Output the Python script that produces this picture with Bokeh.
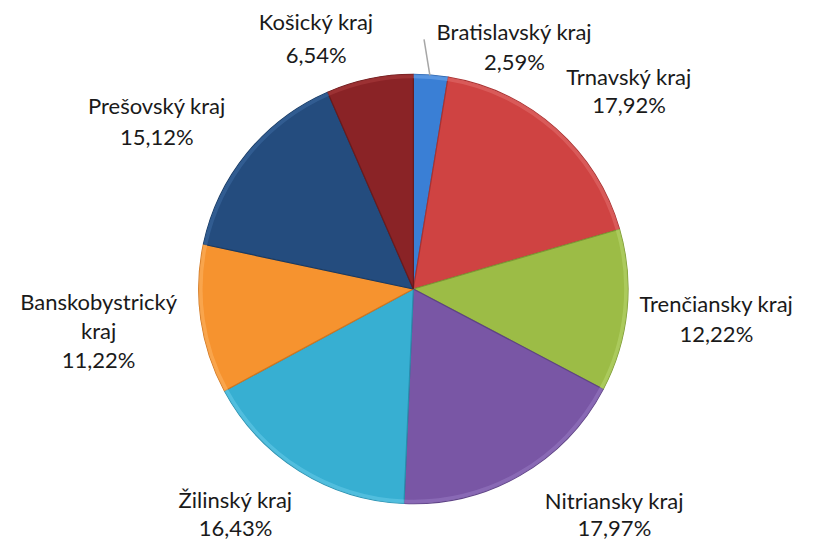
import numpy as np
from bokeh.plotting import figure
from bokeh.models import Range1d, ColumnDataSource
from bokeh.core.properties import value
from bokeh.embed import file_html
from bokeh.resources import INLINE

# ---- data ----
regions = ["Bratislavský kraj", "Trnavský kraj", "Trenčiansky kraj", "Nitriansky kraj",
           "Žilinský kraj", "Banskobystrický kraj", "Prešovský kraj", "Košický kraj"]
shares = [2.59, 17.92, 12.22, 17.97, 16.43, 11.22, 15.12, 6.54]
colors = ["#3a7fd5", "#cf4342", "#9cbc46", "#7956a5", "#37afd2", "#f6932f", "#244c7e", "#8a2326"]
edge_colors = ["#2a63ad", "#a83232", "#7d9a34", "#5e4285", "#288fae", "#d0761f", "#183a63", "#6a1a1c"]
rim_light = ["#6aa3ea", "#e06a69", "#b6d46a", "#9577bf", "#62c8e6", "#fbb060", "#3a679e", "#a83a3c"]

# label layout (reference pixel coordinates: x, y of each text line), one label per region
label_lines = [
    [("Bratislavský kraj", 525, 32), (None, 525, 63)],
    [("Trnavský kraj", 643, 78), (None, 643, 107)],
    [("Trenčiansky kraj", 733, 312), (None, 733, 343)],
    [("Nitriansky kraj", 628, 515), (None, 628, 543)],
    [("Žilinský kraj", 238, 514), (None, 238, 543)],
    [("Banskobystrický", 97, 310), ("kraj", 97, 340), (None, 97, 370)],
    [("Prešovský kraj", 157, 108), (None, 157, 140)],
    [("Košický kraj", 321, 22), (None, 321, 56)],
]

REF_W, REF_H = 832, 559
W, H = 816, 543
s = H / REF_H
span_x = W / s
pad = (span_x - REF_W) / 2

def Y(py):
    return REF_H - py

cx, cy, R = 421, Y(297), 221

p = figure(width=W, height=H, output_backend="svg", toolbar_location=None,
           x_range=Range1d(-pad, REF_W + pad), y_range=Range1d(0, REF_H),
           x_axis_type=None, y_axis_type=None, min_border=0,
           background_fill_color="white", border_fill_color="white")
p.grid.visible = False
p.outline_line_color = None

frac = np.array(shares) / np.sum(shares)
cum = np.concatenate([[0], np.cumsum(frac)])
start = np.pi / 2 - 2 * np.pi * cum[1:]
end = np.pi / 2 - 2 * np.pi * cum[:-1]

src = ColumnDataSource(dict(start=start, end=end, color=colors, edge=edge_colors, rim=rim_light))
p.wedge(x=cx, y=cy, radius=R, start_angle="start", end_angle="end",
        fill_color="color", line_color="edge", line_width=1.2, source=src)
# subtle bevel rim
p.annular_wedge(x=cx, y=cy, inner_radius=R - 4, outer_radius=R, start_angle="start",
                end_angle="end", fill_color="rim", fill_alpha=0.6, line_color=None, source=src)

# leader line for the small slice
p.line(x=[432, 438], y=[Y(40), Y(77)], line_color="#a6a6a6", line_width=1.5)

tx, ty, tt = [], [], []
for name, share, lines in zip(regions, shares, label_lines):
    pct = f"{share:.2f}".replace(".", ",") + "%"
    for txt, x, y in lines:
        tx.append(x)
        ty.append(Y(y))
        tt.append(pct if txt is None else txt)

p.text(x=tx, y=ty, text=tt, text_align="center", text_baseline="middle",
       text_font=value("Lato"), text_font_size="22px", text_color="#1a1a1a")

open("out.html", "w").write(file_html(p, INLINE))
